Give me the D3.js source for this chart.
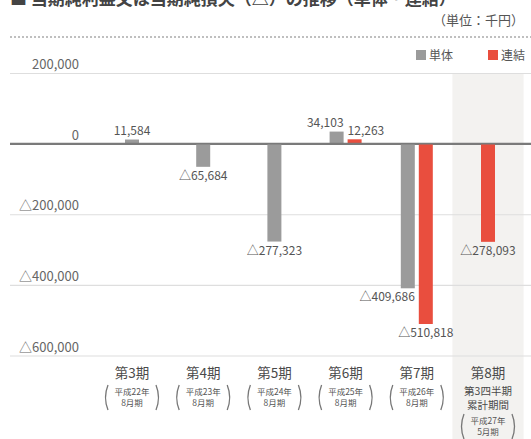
<!DOCTYPE html>
<html>
<head>
<meta charset="utf-8">
<script src="https://cdn.jsdelivr.net/npm/d3@7"></script>
<style>
  html, body { margin: 0; padding: 0; background: #fff; }
  svg { display: block; font-family: "Noto Sans CJK JP", "Noto Sans", sans-serif; }
</style>
</head>
<body>
<svg id="chart" width="531" height="439"></svg>
<script>
// 期ごとの当期純利益（単位：千円、マイナスは損失）
const periods = ["第3期", "第4期", "第5期", "第6期", "第7期", "第8期"];
const periodNotes = [
  ["平成22年", "8月期"],
  ["平成23年", "8月期"],
  ["平成24年", "8月期"],
  ["平成25年", "8月期"],
  ["平成26年", "8月期"],
  ["平成27年", "5月期"]
];
const periodExtra = [null, null, null, null, null, ["第3四半期", "累計期間"]];
const standalone = [11584, -65684, -277323, 34103, -409686, null];   // 単体
const consolidated = [null, null, null, 12263, -510818, -278093];  // 連結
const yTicks = [200000, 0, -200000, -400000, -600000];
const yTickLabels = ["200,000", "0", "△200,000", "△400,000", "△600,000"];
const seriesNames = ["単体", "連結"];
const unitLabel = "（単位：千円）";
const titleText = "■ 当期純利益又は当期純損失（△）の推移（単体・連結）";

const colors = { standalone: "#9b9b9b", consolidated: "#e94e3e" };
const textColor = "#555";

const svg = d3.select("#chart");
const W = 531;

const x = d3.scaleBand().domain(periods).range([96.4, 523.6]).padding(0);
const y = d3.scaleLinear().domain([-600000, 200000]).range([355.5, 73]);

const fmtNum = d3.format(",");
const fmtVal = v => (v < 0 ? "△" : "") + fmtNum(Math.abs(v));

// 上端で切れている見出し
svg.append("text")
  .attr("x", 10).attr("y", 5)
  .attr("font-size", 17).attr("font-weight", "bold")
  .attr("fill", "#444")
  .text(titleText);

// 単位
svg.append("text")
  .attr("x", 524).attr("y", 25)
  .attr("text-anchor", "end")
  .attr("font-size", 13).attr("fill", textColor)
  .text(unitLabel);

// 点線の区切り
svg.append("line")
  .attr("x1", 10).attr("x2", W).attr("y1", 37).attr("y2", 37)
  .attr("stroke", "#aaa").attr("stroke-width", 1.5)
  .attr("stroke-dasharray", "2,2");

// 凡例
const legend = svg.append("g");
const legendItems = [
  { name: seriesNames[0], color: colors.standalone, x: 416 },
  { name: seriesNames[1], color: colors.consolidated, x: 488 }
];
legendItems.forEach(it => {
  legend.append("rect")
    .attr("x", it.x).attr("y", 50).attr("width", 10).attr("height", 10)
    .attr("fill", it.color);
  legend.append("text")
    .attr("x", it.x + 13).attr("y", 59.5)
    .attr("font-size", 12).attr("fill", textColor)
    .text(it.name);
});

// 第8期（累計期間）の背景
const lastP = periods[periods.length - 1];
svg.append("rect")
  .attr("x", x(lastP)).attr("y", y(200000))
  .attr("width", x.bandwidth()).attr("height", 439 - y(200000))
  .attr("fill", "#f3f2f0");

// 目盛りと補助線
const axis = d3.axisRight(y)
  .tickValues(yTicks)
  .tickFormat((d, i) => yTickLabels[i])
  .tickSize(W - 10);
const gAxis = svg.append("g").attr("transform", "translate(10,0)").call(axis);
gAxis.select(".domain").remove();
gAxis.selectAll(".tick line")
  .attr("stroke", d => d === 0 ? "#7a7a7a" : "#dedede")
  .attr("stroke-width", d => d === 0 ? 1.6 : 1.2);
gAxis.selectAll(".tick text")
  .attr("x", 69).attr("dy", -4.5)
  .attr("text-anchor", "end")
  .attr("font-size", 13)
  .attr("font-family", "\"Noto Sans CJK JP\", sans-serif")
  .attr("fill", "#666");

// 棒
const barW = 14, gap = 4;
const bars = [];
periods.forEach((p, i) => {
  const c = x(p) + x.bandwidth() / 2;
  const s = standalone[i], k = consolidated[i];
  const both = s != null && k != null;
  if (s != null) bars.push({ p, v: s, series: "standalone", x0: both ? c - gap / 2 - barW : c - barW / 2, both });
  if (k != null) bars.push({ p, v: k, series: "consolidated", x0: both ? c + gap / 2 : c - barW / 2, both });
});

const gBars = svg.append("g");
gBars.selectAll("rect").data(bars).join("rect")
  .attr("x", d => d.x0)
  .attr("y", d => Math.min(y(d.v), y(0)))
  .attr("width", barW)
  .attr("height", d => Math.abs(y(d.v) - y(0)))
  .attr("fill", d => colors[d.series]);

// ゼロ線を棒の上に
svg.append("line")
  .attr("x1", 10).attr("x2", W).attr("y1", y(0)).attr("y2", y(0))
  .attr("stroke", "#7a7a7a").attr("stroke-width", 1.6);

// 値ラベル：並んだ棒で重なりそうなものは外側へ寄せる
function labelAnchor(d) {
  if (!d.both) return "middle";
  const i = periods.indexOf(d.p);
  const other = d.series === "standalone" ? consolidated[i] : standalone[i];
  const close = Math.abs(y(d.v) - y(other)) < 30;
  if (d.series === "standalone") return "end";
  return close ? "start" : "middle";
}
function labelX(d) {
  const a = labelAnchor(d);
  if (a === "end") return d.x0 + barW;
  if (a === "start") return d.x0;
  return d.x0 + barW / 2;
}
svg.append("g").selectAll("text").data(bars).join("text")
  .attr("x", labelX)
  .attr("y", d => d.v >= 0 ? y(d.v) - 4.5 : y(d.v) + 13)
  .attr("text-anchor", labelAnchor)
  .attr("font-size", 12)
  .attr("fill", textColor)
  .text(d => fmtVal(d.v));

// 期の見出し
const gCat = svg.append("g");
function paren(g, cx, top, bottom) {
  const h = bottom - top;
  g.append("path")
    .attr("d", `M${cx - 24},${top} Q${cx - 29},${top + h / 2} ${cx - 24},${bottom}`)
    .attr("fill", "none").attr("stroke", "#777").attr("stroke-width", 1.3);
  g.append("path")
    .attr("d", `M${cx + 24},${top} Q${cx + 29},${top + h / 2} ${cx + 24},${bottom}`)
    .attr("fill", "none").attr("stroke", "#777").attr("stroke-width", 1.3);
}
periods.forEach((p, i) => {
  const cx = x(p) + x.bandwidth() / 2;
  const g = gCat.append("g");
  g.append("text")
    .attr("x", cx).attr("y", 378)
    .attr("text-anchor", "middle")
    .attr("font-size", 13.5).attr("fill", "#4a4a4a")
    .text(p);
  let top = 385;
  if (periodExtra[i]) {
    periodExtra[i].forEach((t, j) => {
      g.append("text")
        .attr("x", cx).attr("y", 394.5 + j * 14)
        .attr("text-anchor", "middle")
        .attr("font-size", 10.5).attr("fill", "#4a4a4a")
        .text(t);
    });
    top = 414;
  }
  periodNotes[i].forEach((t, j) => {
    g.append("text")
      .attr("x", cx).attr("y", top + 10 + j * 11)
      .attr("text-anchor", "middle")
      .attr("font-size", 8.5).attr("fill", "#555")
      .text(t);
  });
  paren(g, cx, top, top + 25);
});
</script>
</body>
</html>
